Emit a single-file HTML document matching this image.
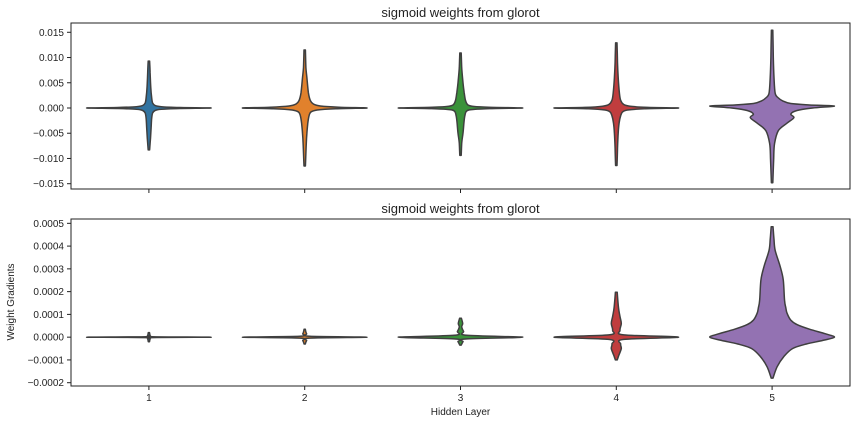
<!DOCTYPE html>
<html><head><meta charset="utf-8"><style>
body{margin:0;background:#fff;}
svg{display:block;font-family:"Liberation Sans","DejaVu Sans",sans-serif;}
</style></head><body>
<svg id="chart" width="856" height="424"></svg>
<script>
const categories=["1","2","3","4","5"];
const colors=["#3274a1","#e1812c","#3a923a","#c03d3e","#9372b2"];
const topTicks=[0.015,0.010,0.005,0.000,-0.005,-0.010,-0.015];
const topTickLabels=["0.015","0.010","0.005","0.000","\u22120.005","\u22120.010","\u22120.015"];
const botTicks=[0.0005,0.0004,0.0003,0.0002,0.0001,0,-0.0001,-0.0002];
const botTickLabels=["0.0005","0.0004","0.0003","0.0002","0.0001","0.0000","\u22120.0001","\u22120.0002"];
// violin profiles: value levels and relative half-widths (0..1)
const topLevels=[
 [9.3,7,4,2,1,0.5,0.25,0.1,0,-0.1,-0.25,-0.5,-1,-2,-4,-6,-8.3],
 [11.5,8,6,3,1.5,0.8,0.4,0.15,0,-0.15,-0.4,-0.8,-1.5,-3,-5,-7,-11.5],
 [10.9,8,5,3,1.5,0.6,0.3,0.12,0,-0.12,-0.3,-0.6,-1.5,-3,-5,-7,-9.4],
 [12.9,9,6,3,1.5,0.7,0.35,0.12,0,-0.15,-0.4,-0.8,-1.5,-3,-5,-8,-11.4],
 [15.4,10,6,2.9,2,1.4,0.9,0.6,0.4,0,-0.5,-1.2,-1.9,-3,-4.5,-7,-10,-14.8]
];
const topWidths=[
 [0.012,0.02,0.03,0.045,0.06,0.1,0.2,0.5,1,0.5,0.2,0.1,0.06,0.045,0.035,0.025,0.012],
 [0.012,0.02,0.035,0.06,0.09,0.14,0.25,0.55,1,0.5,0.2,0.1,0.07,0.05,0.035,0.025,0.012],
 [0.012,0.02,0.04,0.06,0.08,0.12,0.22,0.5,1,0.5,0.2,0.1,0.07,0.055,0.04,0.02,0.012],
 [0.012,0.02,0.03,0.05,0.07,0.12,0.22,0.5,1,0.45,0.18,0.1,0.07,0.045,0.03,0.02,0.012],
 [0.012,0.02,0.03,0.05,0.1,0.17,0.3,0.6,1,0.65,0.4,0.3,0.35,0.24,0.1,0.04,0.025,0.012]
];
const botLevels=[
 [0.2,0.08,0.02,0,-0.02,-0.08,-0.2],
 [0.35,0.15,0.04,0,-0.04,-0.15,-0.3],
 [0.83,0.6,0.45,0.25,0.08,0,-0.08,-0.2,-0.35],
 [1.97,1.3,0.9,0.6,0.3,0.1,0,-0.1,-0.3,-0.5,-0.8,-1.0],
 [4.85,4.3,3.8,3.1,2.5,1.6,1.3,1.05,0.75,0.55,0.35,0.15,0,-0.15,-0.3,-0.5,-0.85,-1.3,-1.8]
];
const botWidths=[
 [0.008,0.02,0.05,1,0.05,0.02,0.008],
 [0.008,0.03,0.08,1,0.08,0.03,0.008],
 [0.015,0.035,0.02,0.05,0.1,1,0.08,0.04,0.012],
 [0.015,0.035,0.06,0.08,0.06,0.12,1,0.12,0.07,0.08,0.04,0.015],
 [0.015,0.03,0.05,0.13,0.18,0.2,0.22,0.24,0.3,0.4,0.6,0.85,1,0.8,0.55,0.33,0.19,0.08,0.015]
];
const svg=document.getElementById('chart');
const NS="http://www.w3.org/2000/svg";
function mk(tag,attrs,parent){const e=document.createElementNS(NS,tag);for(const k in attrs)e.setAttribute(k,attrs[k]);(parent||svg).appendChild(e);return e;}
const X0=71,X1=850,band=(X1-X0)/categories.length,maxHalf=band*0.4;
function xScale(i){return X0+(i+0.5)*band;}
function smooth(pts){
 let d='M'+pts[0][0].toFixed(1)+','+pts[0][1].toFixed(1);
 for(let i=0;i<pts.length-1;i++){
  const p0=pts[Math.max(0,i-1)],p1=pts[i],p2=pts[i+1],p3=pts[Math.min(pts.length-1,i+2)];
  const c1=[p1[0]+(p2[0]-p0[0])/6,p1[1]+(p2[1]-p0[1])/6],c2=[p2[0]-(p3[0]-p1[0])/6,p2[1]-(p3[1]-p1[1])/6];
  d+='C'+c1.map(v=>v.toFixed(1)).join(',')+' '+c2.map(v=>v.toFixed(1)).join(',')+' '+p2[0].toFixed(1)+','+p2[1].toFixed(1);
 }
 return d;
}
const panels=[
 {y0:23,y1:189,vmin:-0.01605,vmax:0.01684,ticks:topTicks,labels:topTickLabels,levels:topLevels,widths:topWidths,unit:1e-3,name:'top'},
 {y0:219,y1:386,vmin:-0.0002145,vmax:0.000519,ticks:botTicks,labels:botTickLabels,levels:botLevels,widths:botWidths,unit:1e-4,name:'bottom'}
];
panels.forEach((p,pi)=>{
 const y=v=>p.y1-(v-p.vmin)/(p.vmax-p.vmin)*(p.y1-p.y0);
 const g=mk('g',{});
 
 
 const t=mk('text',{x:(X0+X1)/2,y:p.y0-6,'text-anchor':'middle','font-size':13,fill:'#222'},g);
 t.textContent='sigmoid weights from glorot';
 
 
 p.levels.forEach((lv,i)=>{
  const cx=xScale(i),w=p.widths[i];
  let right=[],left=[];
  for(let k=0;k<lv.length;k++){const yy=y(lv[k]*p.unit),hw=Math.max(0.6,w[k]*maxHalf);right.push([cx+hw,yy]);left.push([cx-hw,yy]);}
  const d=smooth(right)+'L'+smooth(left.reverse()).slice(1)+'Z';
  const path=mk('path',{d:d,fill:colors[i],stroke:'#3f3f3f','stroke-width':1.5,'stroke-linejoin':'round'},g);
  
  
 });
 const frame=mk('rect',{x:X0,y:p.y0,width:X1-X0,height:p.y1-p.y0,fill:'none',stroke:'#222','stroke-width':1},g);
 
 
 p.ticks.forEach((v,k)=>{
  const yy=y(v);
  mk('line',{x1:X0-4,x2:X0,y1:yy,y2:yy,stroke:'#222'},g);
  const tl=mk('text',{x:X0-7,y:yy+3.5,'text-anchor':'end','font-size':10,fill:'#222'},g);
  tl.textContent=p.labels[k];
  
  
 });
 categories.forEach((c,i)=>{
  mk('line',{x1:xScale(i),x2:xScale(i),y1:p.y1,y2:p.y1+4,stroke:'#222'},g);
  if(pi===1){const tl=mk('text',{x:xScale(i),y:p.y1+15,'text-anchor':'middle','font-size':10,fill:'#222'},g);tl.textContent=c;
   
   }
 });
});
const xl=mk('text',{x:(X0+X1)/2,y:415,'text-anchor':'middle','font-size':10,fill:'#222'});
xl.textContent='Hidden Layer';


const yl=mk('text',{x:0,y:0,'text-anchor':'middle','font-size':10,fill:'#222',transform:'translate(14,302) rotate(-90)'});
yl.textContent='Weight Gradients';


</script>
</body></html>
